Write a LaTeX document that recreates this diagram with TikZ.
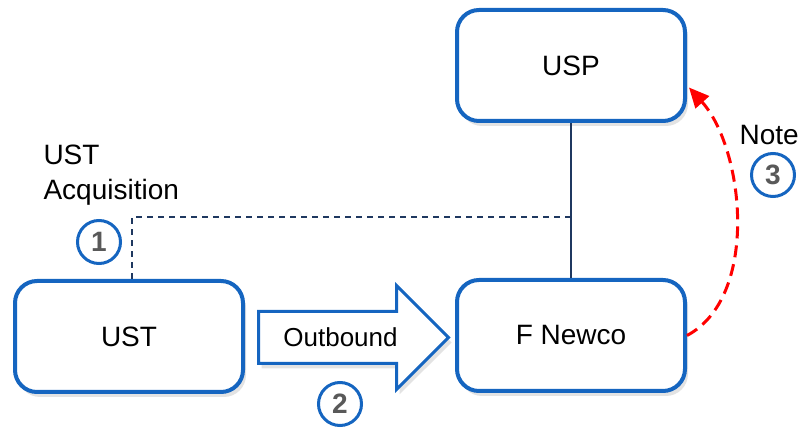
\documentclass[tikz,border=0pt]{standalone}
\usepackage{fontspec}
\setmainfont{Liberation Sans}
\usepackage{xcolor}
\usetikzlibrary{shapes,arrows.meta,positioning,calc,shadows}

\definecolor{boxblue}{RGB}{21,101,192}
\definecolor{navy}{RGB}{31,56,96}
\definecolor{numgray}{RGB}{89,89,89}

\begin{document}
\begin{tikzpicture}[x=1pt,y=1pt,
  entity/.style={draw=boxblue,line width=4pt,fill=white,rounded corners=22pt,
    minimum width=228pt,minimum height=111pt,
    font=\fontsize{28}{34}\selectfont,
    drop shadow={shadow xshift=3pt,shadow yshift=-5pt,opacity=0.22}},
  stepnum/.style={circle,draw=boxblue,line width=3pt,fill=white,minimum size=43pt,
    inner sep=0pt,text=numgray,font=\fontsize{28}{30}\selectfont\bfseries}]
\useasboundingbox (0,0) rectangle (801,428);
\node[entity] (usp) at (571,362.5) {USP};
\node[entity] (newco) at (571,92.5) {F Newco};
\node[entity] (ust) at (129,91.5) {UST};
\coordinate (acq) at (132,211);
\draw[navy,line width=1.5pt] (usp) -- (newco);
\draw[navy,line width=1.5pt,dash pattern=on 6pt off 5pt] (ust.north -| acq) -- (acq) -- (acq -| usp.south);
\node[single arrow,draw=boxblue,line width=3pt,fill=white,anchor=tail,
  minimum height=190pt,single arrow head extend=26pt,
  text height=19pt,text depth=0pt,inner ysep=15pt,inner xsep=10pt,
  font=\fontsize{26}{30}\selectfont,
  drop shadow={shadow xshift=3pt,shadow yshift=-5pt,opacity=0.22}] (out) at (257,90.5) {Outbound};
\draw[red,line width=3pt,dash pattern=on 12pt off 7pt,-{Triangle[length=20pt,width=18pt]}]
  (newco.east) to[out=28,in=-48,looseness=0.85] ($(usp.east)+(2,-22)$);
\node[anchor=west,align=left,font=\fontsize{28}{35}\selectfont] (acqlabel) at (40,252.5) {UST\\Acquisition};
\node[anchor=west,font=\fontsize{28}{34}\selectfont] (note) at (736,293) {Note};
\node[stepnum] (one) at (99,186) {1};
\node[stepnum] (two) at (340,24) {2};
\node[stepnum] (three) at (773,253) {3};
\end{tikzpicture}
\end{document}
